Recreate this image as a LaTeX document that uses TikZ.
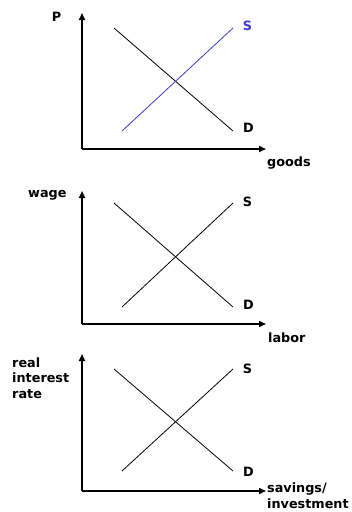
\documentclass[tikz,border=0pt]{standalone}
\usepackage{fontspec}
\setmainfont{DejaVu Sans}
\usetikzlibrary{arrows.meta}
\definecolor{supblue}{RGB}{60,60,210}
\tikzset{
  axis/.style={line width=1.6pt,-{Triangle[length=7pt,width=6pt]}},
  curve/.style={line width=0.8pt},
  lbl/.style={font=\fontsize{12.8}{15.5}\selectfont\bfseries,inner sep=0pt},
}
\begin{document}
\begin{tikzpicture}[x=1pt,y=-1pt]
\useasboundingbox (0,0) rectangle (352,512);
% ---------- panel 1 ----------
\coordinate (o1) at (82,149);
\coordinate (y1) at (82,13);
\coordinate (x1) at (266,149);
\coordinate (d1a) at (114,28);
\coordinate (d1b) at (233,131);
\coordinate (s1a) at (122,131);
\coordinate (s1b) at (233,28);
\draw[axis] (o1) -- (y1);
\draw[axis] (o1) -- (x1);
\draw[curve] (d1a) -- (d1b);
\draw[curve,supblue] (s1a) -- (s1b);
\node[lbl,anchor=center] (p1) at (56.5,17) {P};
\node[lbl,anchor=center,text=supblue] (sl1) at (247.5,25.5) {S};
\node[lbl,anchor=center] (dl1) at (248.5,127.5) {D};
\node[lbl,anchor=base west] (gl1) at (267,166) {goods};
% ---------- panel 2 ----------
\coordinate (o2) at (82,324);
\coordinate (y2) at (82,191);
\coordinate (x2) at (266,324);
\coordinate (d2a) at (114,203);
\coordinate (d2b) at (233,307);
\coordinate (s2a) at (122,307);
\coordinate (s2b) at (233,203);
\draw[axis] (o2) -- (y2);
\draw[axis] (o2) -- (x2);
\draw[curve] (d2a) -- (d2b);
\draw[curve] (s2a) -- (s2b);
\node[lbl,anchor=base west] (wl2) at (28,197) {wage};
\node[lbl,anchor=center] (sl2) at (247.5,201.5) {S};
\node[lbl,anchor=center] (dl2) at (248.5,305) {D};
\node[lbl,anchor=base west] (ll2) at (268,342) {labor};
% ---------- panel 3 ----------
\coordinate (o3) at (82,491);
\coordinate (y3) at (82,354);
\coordinate (x3) at (266,491);
\coordinate (d3a) at (114,369);
\coordinate (d3b) at (233,471);
\coordinate (s3a) at (122,471);
\coordinate (s3b) at (233,369);
\draw[axis] (o3) -- (y3);
\draw[axis] (o3) -- (x3);
\draw[curve] (d3a) -- (d3b);
\draw[curve] (s3a) -- (s3b);
\node[lbl,anchor=base west,align=left] (rl3) at (12,398) {real\\interest\\rate};
\node[lbl,anchor=center] (sl3) at (247.5,369) {S};
\node[lbl,anchor=center] (dl3) at (248.5,472) {D};
\node[lbl,anchor=base west,align=left] (il3) at (267,508) {savings/\\investment};
\end{tikzpicture}
\end{document}
